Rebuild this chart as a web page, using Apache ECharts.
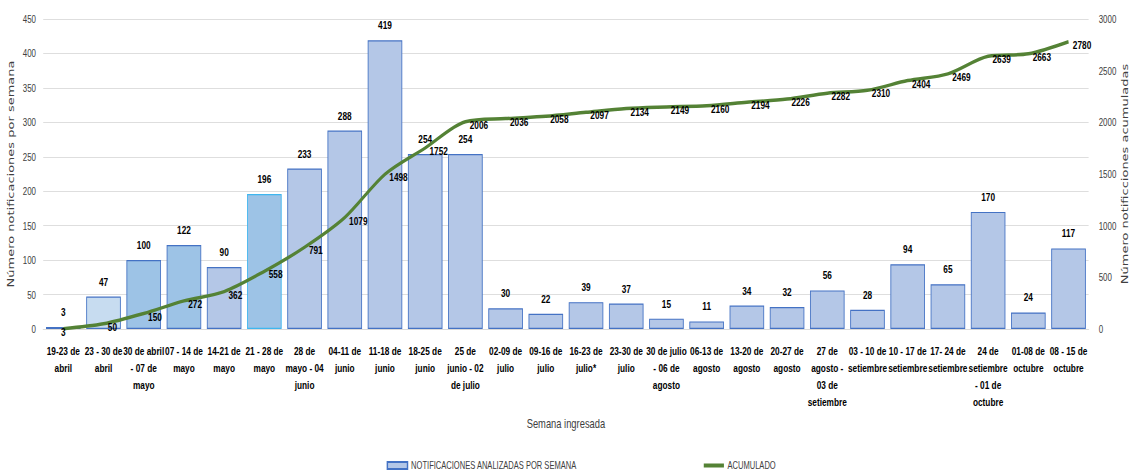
<!DOCTYPE html>
<html><head><meta charset="utf-8">
<script src="https://cdn.jsdelivr.net/npm/echarts@6/dist/echarts.min.js"></script>
<style>
html,body{margin:0;padding:0;background:#fff;overflow:hidden}
#wrap{width:1130px;height:472px;overflow:hidden;position:relative}
#c{width:1570px;height:472px;transform:scaleX(0.72);transform-origin:0 0;position:absolute;left:0;top:0}
</style>
</head><body><div id="wrap"><div id="c"></div></div>
<script>
const categories = [
 "19-23 de\nabril","23 - 30 de\nabril","30 de abril\n- 07 de\nmayo","07 - 14 de\nmayo","14-21 de\nmayo",
 "21 - 28 de\nmayo","28 de\nmayo - 04\njunio","04-11 de\njunio","11-18 de\njunio","18-25 de\njunio",
 "25 de\njunio - 02\nde julio","02-09 de\njulio","09-16 de\njulio","16-23 de\njulio*","23-30 de\njulio",
 "30 de julio\n- 06 de\nagosto","06-13 de\nagosto","13-20 de\nagosto","20-27 de\nagosto","27 de\nagosto -\n03 de\nsetiembre",
 "03 - 10 de\nsetiembre","10 - 17 de\nsetiembre","17- 24 de\nsetiembre","24 de\nsetiembre\n- 01 de\noctubre","01-08 de\noctubre","08 - 15 de\noctubre"];
const semanal = [3,47,100,122,90,196,233,288,419,254,254,30,22,39,37,15,11,34,32,56,28,94,65,170,24,117];
const acumulado = [3,50,150,272,362,558,791,1079,1498,1752,2006,2036,2058,2097,2134,2149,2160,2194,2226,2282,2310,2404,2469,2639,2663,2780];
const leftTicks = {min:0,max:450,interval:50};
const rightTicks = {min:0,max:3000,interval:500};

const FONT = "'Liberation Sans',Arial,sans-serif";
const fills = {1:'#c7dcf0',2:'#9dc3e6',3:'#9dc3e6',5:'#9dc3e6'};
const borders = {5:'#3fb6ef'};
const barData = semanal.map((v,i)=>({value:v,itemStyle:{color:fills[i]||'#b4c7e7',borderColor:borders[i]||'#4472c4'}}));
const lineData = acumulado.map((v,i)=> i===0 ? {value:v,label:{position:'bottom',distance:0,offset:[0,-3]}} : v);

const chart = echarts.init(document.getElementById('c'), null, {renderer:'svg'});
chart.setOption({
  animation:false,
  textStyle:{fontFamily:FONT},
  grid:{left:60,right:58,top:19,bottom:143,outerBoundsMode:'none',containLabel:false},
  legend:{bottom:-4,left:532,itemGap:176,itemWidth:28,itemHeight:7,
    textStyle:{fontFamily:FONT,fontSize:10.5,color:'#404040'},
    data:[{name:'NOTIFICACIONES ANALIZADAS POR SEMANA',icon:'rect'},
          {name:'ACUMULADO',icon:'path://M0,0L28,0L28,0Z M0,1.5L28,1.5L28,5.5L0,5.5Z M0,7L28,7L28,7Z'}]},
  xAxis:{type:'category',data:categories,
    name:'Semana ingresada',nameLocation:'middle',nameGap:88,
    nameTextStyle:{fontFamily:FONT,fontSize:13,color:'#404040'},
    axisTick:{show:false},axisLine:{lineStyle:{color:'#d9d9d9'}},
    axisLabel:{interval:0,fontFamily:FONT,fontWeight:'bold',fontSize:11.5,color:'#000',lineHeight:17,margin:14}},
  yAxis:[
    {type:'value',min:leftTicks.min,max:leftTicks.max,interval:leftTicks.interval,
     name:'Número notificaciones por semana',nameLocation:'middle',nameGap:39,nameRotate:90,nameMoveOverlap:false,
     nameTextStyle:{fontFamily:'DejaVu Sans, sans-serif',fontSize:13,color:'#404040'},
     axisLabel:{fontFamily:FONT,fontSize:11,color:'#404040',margin:10},
     splitLine:{lineStyle:{color:'#d9d9d9'}}},
    {type:'value',min:rightTicks.min,max:rightTicks.max,interval:rightTicks.interval,
     name:'Número notificciones acumuladas',nameLocation:'middle',nameGap:43,nameRotate:90,nameMoveOverlap:false,
     nameTextStyle:{fontFamily:'DejaVu Sans, sans-serif',fontSize:13,color:'#404040'},
     axisLabel:{fontFamily:FONT,fontSize:11,color:'#404040',margin:14,formatter:v=>String(v)},
     splitLine:{show:false}}
  ],
  series:[
    {name:'NOTIFICACIONES ANALIZADAS POR SEMANA',type:'bar',data:barData,barCategoryGap:'14%',
     itemStyle:{color:'#b4c7e7',borderColor:'#4472c4',borderWidth:1.2},
     label:{show:true,position:'top',distance:9,fontFamily:FONT,fontWeight:'bold',fontSize:11.5,color:'#000'}},
    {name:'ACUMULADO',type:'line',yAxisIndex:1,data:lineData,smooth:0.3,symbol:'circle',symbolSize:0,showSymbol:true,
     lineStyle:{color:'#548235',width:3.5},itemStyle:{color:'#548235'},
     label:{show:true,position:'right',distance:6,offset:[0,3],fontFamily:FONT,fontWeight:'bold',fontSize:11.5,color:'#000'}}
  ]
});
</script></body></html>
